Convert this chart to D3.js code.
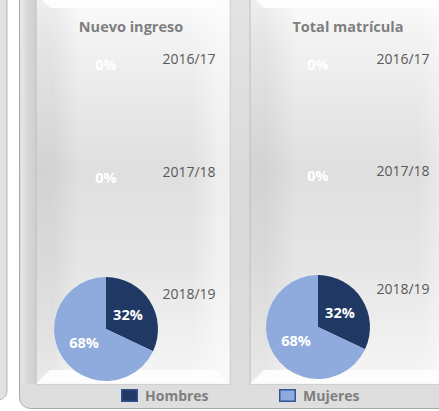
<!DOCTYPE html>
<html>
<head>
<meta charset="utf-8">
<script src="https://cdn.jsdelivr.net/npm/d3@7"></script>
<style>
  html, body { margin: 0; padding: 0; background: #ffffff; }
  svg { display: block; }
  text { font-family: "Open Sans", "Noto Sans", sans-serif; }
</style>
</head>
<body>
<svg id="chart" width="439" height="411"></svg>
<script>
// Distribución por sexo (porcentaje) por curso académico
const panels = ["Nuevo ingreso", "Total matrícula"];
const years = ["2016/17", "2017/18", "2018/19"];
const series = ["Hombres", "Mujeres"];
const nuevoIngreso = [[0, 0], [0, 0], [32, 68]];
const totalMatricula = [[0, 0], [0, 0], [32, 68]];
const panelValues = [nuevoIngreso, totalMatricula];

const colors = d3.scaleOrdinal().domain(series).range(["#203864", "#8faadc"]);
const strokeColors = d3.scaleOrdinal().domain(series).range(["#2f528f", "#2f5597"]);

const svg = d3.select("#chart");
const defs = svg.append("defs");

function linGrad(id, x1, y1, x2, y2, stops) {
  const g = defs.append("linearGradient").attr("id", id)
    .attr("x1", x1).attr("y1", y1).attr("x2", x2).attr("y2", y2);
  stops.forEach(s => g.append("stop").attr("offset", s[0]).attr("stop-color", s[1]));
}
linGrad("frameGrad", 0, 0, 0, 1, [[0, "#e4e4e4"], [0.5, "#d9d9d9"], [1, "#dedede"]]);
linGrad("faceGrad", 0, 0, 0, 1, [[0, "#fdfdfd"], [0.12, "#f2f2f2"], [0.45, "#dfdfdf"], [0.7, "#e6e6e6"], [1, "#f6f6f6"]]);
linGrad("faceShadeL", 0, 0, 1, 0, [[0, "rgba(0,0,0,0.06)"], [0.18, "rgba(0,0,0,0)"], [0.85, "rgba(255,255,255,0)"], [1, "rgba(255,255,255,0.4)"]]);
linGrad("leftPanel", 0, 0, 1, 0, [[0, "#f3f3f3"], [1, "#e0e0e0"]]);
linGrad("stripGrad", 0, 0, 1, 0, [[0, "#e8e8e8"], [0.5, "#d6d6d6"], [1, "#cfcfcf"]]);

// neighbouring chart, partly visible on the left
svg.append("rect").attr("x", -30).attr("y", -12).attr("width", 37).attr("height", 412)
  .attr("rx", 9).attr("fill", "url(#leftPanel)").attr("stroke", "#b4b4b4");

// outer frame
svg.append("rect").attr("x", 19.5).attr("y", -12).attr("width", 440).attr("height", 420.5)
  .attr("rx", 11).attr("fill", "url(#frameGrad)").attr("stroke", "#a9a9a9");
// shaded strip along the left edge of the frame
svg.append("rect").attr("x", 21).attr("y", -6).attr("width", 15).attr("height", 390)
  .attr("fill", "url(#stripGrad)");

// panel geometry
const panelBoxes = [
  {x: 36, y: -6, w: 194, h: 390},
  {x: 250, y: -6, w: 210, h: 390}
];
const bevel = 14;

panelBoxes.forEach(b => {
  const g = svg.append("g");
  const x0 = b.x, y0 = b.y, x1 = b.x + b.w, y1 = b.y + b.h;
  g.append("rect").attr("x", x0).attr("y", y0).attr("width", b.w).attr("height", b.h)
    .attr("fill", "url(#faceGrad)").attr("stroke", "#c4c4c4");
  const sides = [
    {pts: [[x0, y0], [x1, y0], [x1 - bevel, y0 + bevel], [x0 + bevel, y0 + bevel]], fill: "rgba(255,255,255,0.6)"},
    {pts: [[x0, y0], [x0 + bevel, y0 + bevel], [x0 + bevel, y1 - bevel], [x0, y1]], fill: "rgba(0,0,0,0.05)"},
    {pts: [[x1, y0], [x1, y1], [x1 - bevel, y1 - bevel], [x1 - bevel, y0 + bevel]], fill: "rgba(255,255,255,0.45)"},
    {pts: [[x0, y1], [x0 + bevel, y1 - bevel], [x1 - bevel, y1 - bevel], [x1, y1]], fill: "rgba(255,255,255,0.8)"}
  ];
  sides.forEach(s => g.append("polygon").attr("points", s.pts.map(p => p.join(",")).join(" "))
    .attr("fill", s.fill));
  g.append("rect").attr("x", x0 + bevel).attr("y", y0 + bevel)
    .attr("width", b.w - 2 * bevel).attr("height", b.h - 2 * bevel)
    .attr("fill", "url(#faceShadeL)");
});

// pies
const pieLayout = [
  {cx: 106, title: 131, rows: [65, 178, 329], yearX: 189, yearY: [64, 177, 299]},
  {cx: 318, title: 348, rows: [65, 176, 327], yearX: 403, yearY: [64, 176, 294]}
];
const radius = 52;
const pie = d3.pie().sort(null).value(d => d.v);
const arc = d3.arc().innerRadius(0).outerRadius(radius);

panels.forEach((name, pi) => {
  const L = pieLayout[pi];
  svg.append("text").attr("x", L.title).attr("y", 32).attr("text-anchor", "middle")
    .attr("font-size", 14.5).attr("font-weight", "bold").attr("fill", "#7f7f7f").text(name);

  years.forEach((yr, yi) => {
    const vals = panelValues[pi][yi];
    const total = d3.sum(vals);
    const g = svg.append("g").attr("transform", `translate(${L.cx},${L.rows[yi]})`);
    svg.append("text").attr("x", L.yearX).attr("y", L.yearY[yi]).attr("text-anchor", "middle")
      .attr("font-size", 14).attr("fill", "#595959").text(yr);
    if (total > 0) {
      const data = pie(series.map((s, k) => ({s, v: vals[k]})));
      g.selectAll("path").data(data).join("path")
        .attr("d", arc).attr("fill", d => colors(d.data.s));
      g.selectAll("text").data(data).join("text")
        .attr("transform", d => `translate(${arc.centroid(d)})`)
        .attr("text-anchor", "middle").attr("dy", "0.36em")
        .attr("font-size", 14.5).attr("font-weight", "bold").attr("fill", "#ffffff")
        .text(d => Math.round(d.data.v / total * 100) + "%");
    } else {
      g.append("text").attr("text-anchor", "middle").attr("dy", "0.36em")
        .attr("font-size", 14.5).attr("font-weight", "bold").attr("fill", "#ffffff")
        .text("0%");
    }
  });
});

// legend
const legendX = [121, 279];
series.forEach((s, k) => {
  const g = svg.append("g").attr("transform", `translate(${legendX[k]},389)`);
  g.append("rect").attr("x", 0.75).attr("y", 0.75).attr("width", 15.5).attr("height", 11.5)
    .attr("fill", colors(s)).attr("stroke", strokeColors(s)).attr("stroke-width", 1.5);
  g.append("text").attr("x", 24).attr("y", 12).attr("font-size", 14).attr("font-weight", "bold")
    .attr("fill", "#7f7f7f").text(s);
});
</script>
</body>
</html>
